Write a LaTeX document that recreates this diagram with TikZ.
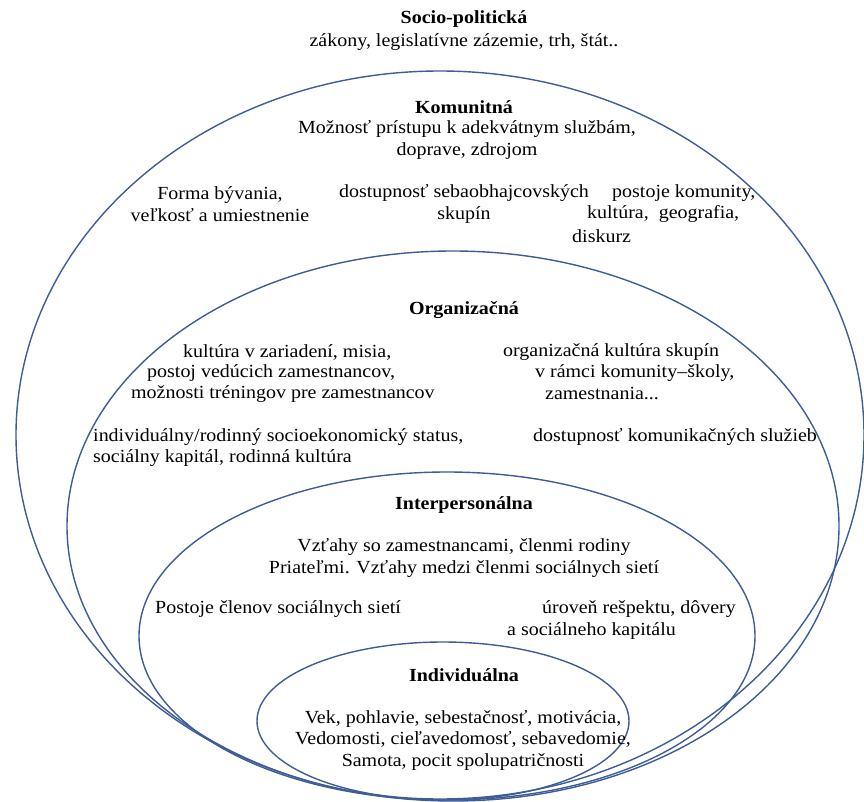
\documentclass[tikz,border=0pt]{standalone}
\usepackage{fontspec}
\setmainfont{Liberation Serif}[FakeStretch=1.08]
\usepackage{tikz}
\usetikzlibrary{positioning}
\definecolor{ringblue}{RGB}{62,92,150}
\newcommand{\lvlfont}{\fontsize{18.5}{21.5}\selectfont}

\begin{document}
\begin{tikzpicture}[x=1pt, y=-1pt,
  ring/.style={draw=ringblue, line width=1.4pt},
  txt/.style={font=\lvlfont, inner sep=0pt, align=center},
  lvl/.style={txt, font=\lvlfont\bfseries},
  lft/.style={txt, anchor=west}]
  \useasboundingbox (0,0) rectangle (864,802);
  % Rings, all resting on the bottom edge
  \begin{scope}
    \clip (0,0) rectangle (864,802);
    \draw[ring] (440,435) ellipse (424 and 364);
    \draw[ring] (453,526) ellipse (386 and 275);
    \draw[ring] (447,636) ellipse (308 and 164);
    \draw[ring] (443,721) ellipse (186 and 79);
  \end{scope}
  % Socio-politicka
  \node[lvl] (socio) at (464,19) {Socio-politická};
  \node[txt] (socio-a) at (464,42) {zákony, legislatívne zázemie, trh, štát..};
  % Komunitna
  \node[lvl] (komu) at (464,107) {Komunitná};
  \node[txt] (komu-a) at (467,140) {Možnosť prístupu k adekvátnym službám,\\doprave, zdrojom};
  \node[txt] (komu-b) at (220,204) {Forma bývania,\\veľkosť a umiestnenie};
  \node[txt] (komu-c) at (464,204) {dostupnosť sebaobhajcovských\\skupín};
  \node[lft] (komu-d1) at (612,193) {postoje komunity,};
  \node[lft] (komu-d2) at (587,214) {kultúra,\ \ geografia,};
  \node[lft] (komu-d3) at (572,236) {diskurz};
  % Organizacna
  \node[lvl] (org) at (464,310) {Organizačná};
  \node[lft] (org-a1) at (183,352) {kultúra v zariadení, misia,};
  \node[lft] (org-a2) at (147,373) {postoj vedúcich zamestnancov,};
  \node[lft] (org-a3) at (131,394) {možnosti tréningov pre zamestnancov};
  \node[lft] (org-b1) at (503,352) {organizačná kultúra skupín};
  \node[lft] (org-b2) at (535,373) {v rámci komunity–školy,};
  \node[lft] (org-b3) at (545,394) {zamestnania...};
  \node[lft] (org-c1) at (93,437) {individuálny/rodinný socioekonomický status,};
  \node[lft] (org-c2) at (93,458) {sociálny kapitál, rodinná kultúra};
  \node[lft] (org-d) at (533,437) {dostupnosť komunikačných služieb};
  % Interpersonalna
  \node[lvl] (inter) at (464,505) {Interpersonálna};
  \node[txt] (inter-a) at (464,558) {Vzťahy so zamestnancami, členmi rodiny\\Priateľmi. Vzťahy medzi členmi sociálnych sietí};
  \node[lft] (inter-b) at (155,609) {Postoje členov sociálnych sietí};
  \node[lft] (inter-c1) at (542,609) {úroveň rešpektu, dôvery};
  \node[lft] (inter-c2) at (507,631) {a sociálneho kapitálu};
  % Individualna
  \node[lvl] (indiv) at (464,675) {Individuálna};
  \node[txt] (indiv-a) at (463,740) {Vek, pohlavie, sebestačnosť, motivácia,\\Vedomosti, cieľavedomosť, sebavedomie,\\Samota, pocit spolupatričnosti};
\end{tikzpicture}
\end{document}
